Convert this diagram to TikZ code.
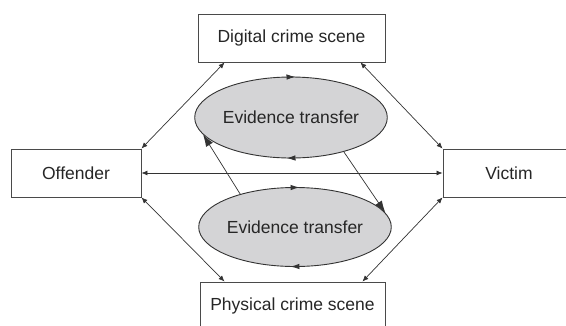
\documentclass[tikz,border=0pt]{standalone}
\usepackage{fontspec}
\setmainfont{Liberation Sans}
\usetikzlibrary{positioning, arrows.meta, shapes.geometric, decorations.markings}
\definecolor{linegray}{HTML}{333333}
\definecolor{boxgray}{HTML}{4A4A4A}
\definecolor{transfergray}{HTML}{D4D4D6}
\newcommand{\linkarrow}{{Latex[length=6pt,width=5pt]}-{Latex[length=6pt,width=5pt]}}
\newcommand{\transferarrow}{-{Latex[length=12pt,width=8pt]}}
\tikzset{
  scene/.style={draw=boxgray, line width=0.9pt, inner sep=0pt, minimum height=48pt,
    font=\fontsize{17.5}{20}\selectfont, text=black!85},
  transfer/.style={ellipse, draw=linegray, line width=0.9pt, fill=transfergray, inner sep=0pt,
    font=\fontsize{17.5}{20}\selectfont, text=black!85,
    postaction={decorate, decoration={markings,
      mark=at position 0.26 with {\arrow{Latex[length=9pt,width=5.5pt,reversed]}},
      mark=at position 0.76 with {\arrow{Latex[length=9pt,width=5.5pt,reversed]}}}}},
  link/.style={draw=linegray, line width=0.7pt}
}

\begin{document}
\begin{tikzpicture}[x=1pt, y=-1pt]
  \useasboundingbox (0,0) rectangle (566,325);
  \clip (0,0) rectangle (566,325);
  \node[scene, minimum width=187pt] (digital) at (291.5,38) { Digital crime scene };
  \node[scene, minimum width=130pt] (offender) at (76,173) { Offender };
  \node[scene, minimum width=132pt] (victim) at (509,173) { Victim };
  \node[scene, minimum width=185pt] (physical) at (292.5,306) { Physical crime scene };
  \node[transfer, minimum width=181pt, minimum height=81pt] (uppertransfer) at (291,117.5) { Evidence transfer };
  \node[transfer, minimum width=178pt, minimum height=79pt] (lowertransfer) at (295,227) { Evidence transfer };
  \draw[link, \linkarrow] (offender.east) -- (victim.west);
  \draw[link, \linkarrow] ([xshift=27pt]digital.south west) -- (offender.north east);
  \draw[link, \linkarrow] ([xshift=-25pt]digital.south east) -- (victim.north west);
  \draw[link, \linkarrow] (offender.south east) -- ([xshift=25pt]physical.north west);
  \draw[link, \linkarrow] (victim.south west) -- ([xshift=-23pt]physical.north east);
  \draw[link, \transferarrow] (lowertransfer.149.8) -- (uppertransfer.191.5);
  \draw[link, \transferarrow] (uppertransfer.-33.3) -- (lowertransfer.9.5);
\end{tikzpicture}
\end{document}
